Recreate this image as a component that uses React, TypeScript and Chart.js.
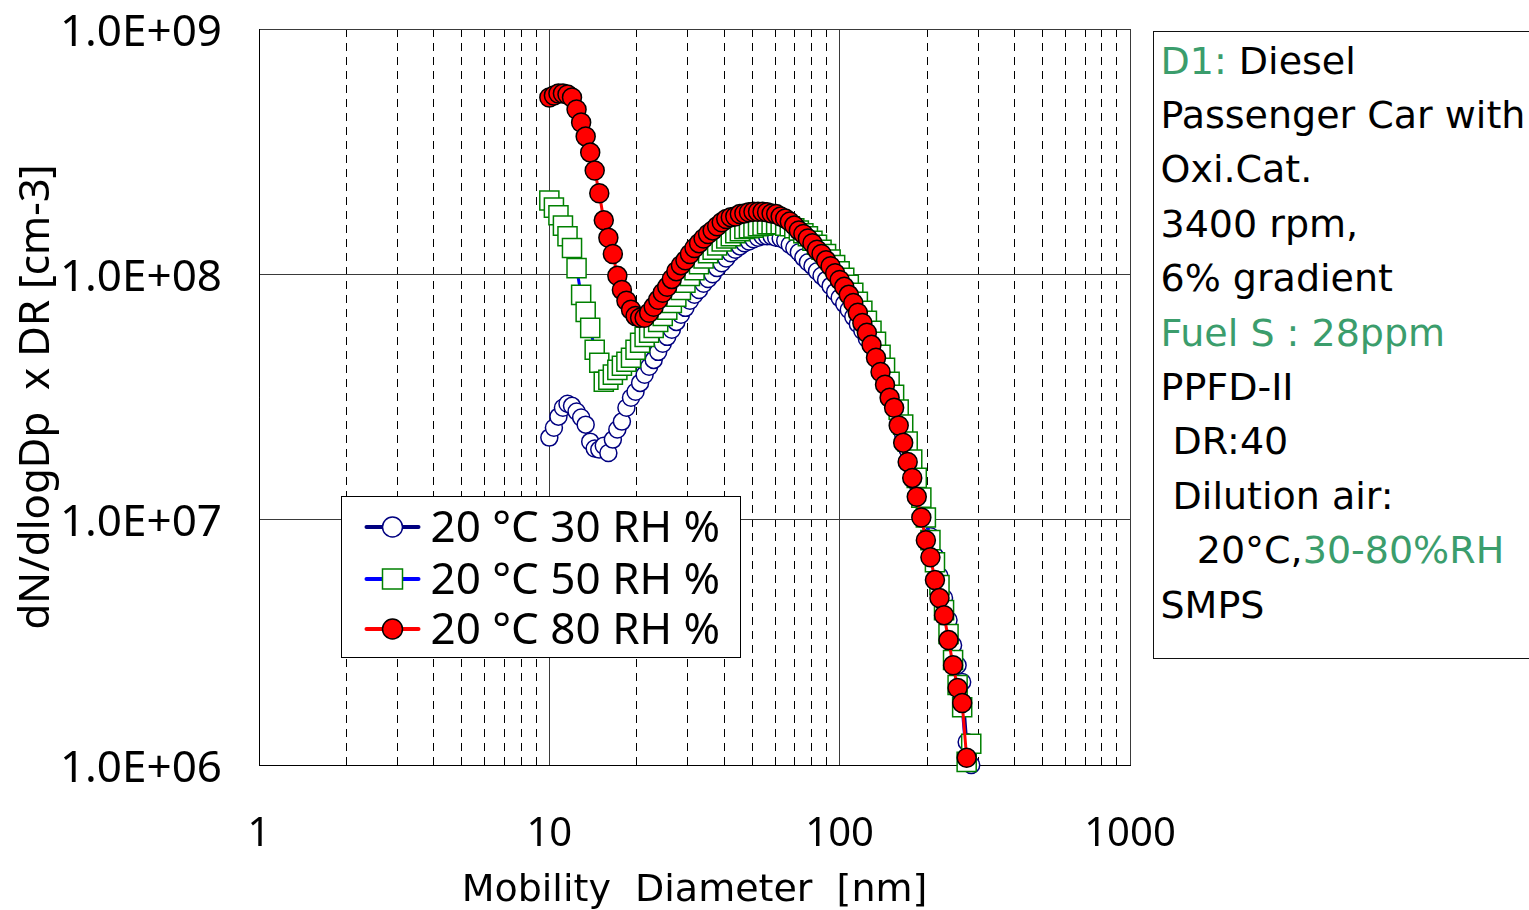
import React, { useEffect, useRef } from 'react';
import { Chart, registerables } from 'chart.js';

Chart.register(...registerables);

// Mobility diameter channels [nm]
const diameters = [
  10.0, 10.37, 10.75, 11.14, 11.55, 11.97, 12.41, 12.87, 13.34, 13.83,
  14.33, 14.86, 15.4, 15.97, 16.55, 17.15, 17.78, 18.43, 19.11, 19.81,
  20.54, 21.29, 22.07, 22.88, 23.71, 24.58, 25.48, 26.42, 27.38, 28.39,
  29.43, 30.5, 31.62, 32.78, 33.98, 35.22, 36.52, 37.85, 39.24, 40.68,
  42.17, 43.71, 45.31, 46.97, 48.7, 50.48, 52.33, 54.25, 56.23, 58.29,
  60.43, 62.64, 64.94, 67.32, 69.78, 72.34, 74.99, 77.74, 80.59, 83.54,
  86.6, 89.77, 93.06, 96.47, 100.0, 103.7, 107.5, 111.4, 115.5, 119.7,
  124.1, 128.7, 133.4, 138.3, 143.3, 148.6, 154.0, 159.7, 165.5, 171.5,
  177.8, 184.3, 191.1, 198.1, 205.4, 212.9, 220.7, 228.8, 237.1, 245.8,
  254.8, 264.2, 273.8, 283.9,
];

// 20 °C 30 RH %
const rh30 = [
  2.16e7, 2.37e7, 2.63e7, 2.86e7, 2.97e7, 2.91e7, 2.76e7, 2.61e7, 2.44e7, 2.08e7,
  1.95e7, 1.93e7, 2.0e7, 1.87e7, 2.12e7, 2.33e7, 2.51e7, 2.86e7, 3.14e7, 3.32e7,
  3.61e7, 3.9e7, 4.2e7, 4.48e7, 4.83e7, 5.21e7, 5.56e7, 5.94e7, 6.4e7, 6.84e7,
  7.3e7, 7.8e7, 8.25e7, 8.64e7, 9.15e7, 9.58e7, 1.0e8, 1.06e8, 1.11e8, 1.16e8,
  1.22e8, 1.26e8, 1.3e8, 1.34e8, 1.36e8, 1.39e8, 1.41e8, 1.43e8, 1.43e8, 1.43e8,
  1.41e8, 1.4e8, 1.37e8, 1.32e8, 1.28e8, 1.23e8, 1.17e8, 1.12e8, 1.08e8, 1.03e8,
  9.86e7, 9.49e7, 8.97e7, 8.48e7, 8.02e7, 7.58e7, 7.17e7, 6.71e7, 6.28e7, 5.89e7,
  5.46e7, 5.11e7, 4.66e7, 4.24e7, 3.79e7, 3.32e7, 2.94e7, 2.55e7, 2.22e7, 1.93e7,
  1.66e7, 1.41e7, 1.21e7, 1.02e7, 8.56e6, 7.1e6, 5.89e6, 4.79e6, 3.9e6, 3.08e6,
  2.55e6, 2.18e6, 1.24e6, 1.0e6,
];

// 20 °C 50 RH %
const rh50 = [
  2.0e8, 1.87e8, 1.74e8, 1.58e8, 1.43e8, 1.28e8, 1.06e8, 8.25e7, 7.03e7, 6.05e7,
  4.93e7, 4.36e7, 3.65e7, 3.72e7, 3.9e7, 4.08e7, 4.24e7, 4.4e7, 4.57e7, 4.93e7,
  5.26e7, 5.56e7, 5.78e7, 6.05e7, 6.4e7, 6.77e7, 7.17e7, 7.65e7, 8.1e7, 8.64e7,
  9.24e7, 9.86e7, 1.04e8, 1.1e8, 1.16e8, 1.22e8, 1.26e8, 1.31e8, 1.36e8, 1.4e8,
  1.43e8, 1.47e8, 1.5e8, 1.53e8, 1.54e8, 1.55e8, 1.57e8, 1.58e8, 1.6e8, 1.6e8,
  1.6e8, 1.6e8, 1.58e8, 1.57e8, 1.54e8, 1.51e8, 1.47e8, 1.43e8, 1.37e8, 1.32e8,
  1.26e8, 1.21e8, 1.15e8, 1.09e8, 1.03e8, 9.67e7, 9.06e7, 8.41e7, 7.72e7, 7.1e7,
  6.46e7, 5.89e7, 5.31e7, 4.7e7, 4.16e7, 3.65e7, 3.23e7, 2.81e7, 2.44e7, 2.08e7,
  1.76e7, 1.48e7, 1.23e7, 1.02e7, 8.25e6, 6.71e6, 5.41e6, 4.28e6, 3.42e6, 2.68e6,
  2.12e6, 1.72e6, 1.03e6, 1.22e6,
];

// 20 °C 80 RH %
const rh80 = [
  5.26e8, 5.36e8, 5.46e8, 5.46e8, 5.41e8, 5.26e8, 4.7e8, 4.16e8, 3.65e8, 3.14e8,
  2.65e8, 2.14e8, 1.66e8, 1.41e8, 1.21e8, 9.86e7, 8.64e7, 7.8e7, 7.17e7, 6.77e7,
  6.65e7, 6.65e7, 6.97e7, 7.37e7, 7.87e7, 8.41e7, 8.89e7, 9.58e7, 1.03e8, 1.09e8,
  1.14e8, 1.21e8, 1.28e8, 1.34e8, 1.4e8, 1.46e8, 1.51e8, 1.57e8, 1.63e8, 1.68e8,
  1.71e8, 1.72e8, 1.76e8, 1.77e8, 1.79e8, 1.8e8, 1.8e8, 1.8e8, 1.79e8, 1.77e8,
  1.76e8, 1.72e8, 1.69e8, 1.64e8, 1.58e8, 1.51e8, 1.46e8, 1.4e8, 1.34e8, 1.26e8,
  1.21e8, 1.14e8, 1.08e8, 1.01e8, 9.49e7, 8.89e7, 8.25e7, 7.65e7, 6.97e7, 6.34e7,
  5.78e7, 5.16e7, 4.57e7, 4.0e7, 3.55e7, 3.14e7, 2.86e7, 2.42e7, 2.06e7, 1.72e7,
  1.48e7, 1.24e7, 1.02e7, 8.25e6, 7.03e6, 5.67e6, 4.79e6, 4.08e6, 3.23e6, 2.55e6,
  2.06e6, 1.79e6, 1.07e6, null,
];

const seriesLabels = ['20 °C 30 RH %', '20 °C 50 RH %', '20 °C 80 RH %'];

const xGridValues = [
  1, 2, 3, 4, 5, 6, 7, 8, 9,
  10, 20, 30, 40, 50, 60, 70, 80, 90,
  100, 200, 300, 400, 500, 600, 700, 800, 900,
  1000,
];
const xTickLabels = [1, 10, 100, 1000];
const yTickValues = [1e6, 1e7, 1e8, 1e9];
const yTickLabels = ['1.0E+06', '1.0E+07', '1.0E+08', '1.0E+09'];

const GREEN_TEXT = '#3b9d6c';

const toPoints = (ys: (number | null)[]) =>
  ys
    .map((y, i) => ({ x: diameters[i], y }))
    .filter((p) => p.y !== null) as { x: number; y: number }[];

const isDecade = (v: number | undefined) =>
  v !== undefined && xTickLabels.some((d) => Math.abs(d - v) < 1e-9);

const zeroPadding = (scale: any) => {
  scale.paddingTop = 0;
  scale.paddingBottom = 0;
  scale.paddingLeft = 0;
  scale.paddingRight = 0;
};

const legendPlugin = {
  id: 'boxLegend',
  afterDraw(chart: any) {
    const { ctx, chartArea } = chart;
    const bx = chartArea.left + 82.5;
    const by = chartArea.top + 467.5;
    const bw = 399;
    const bh = 161;
    ctx.save();
    ctx.fillStyle = '#ffffff';
    ctx.fillRect(bx, by, bw, bh);
    ctx.strokeStyle = '#000000';
    ctx.lineWidth = 1;
    ctx.strokeRect(bx, by, bw, bh);
    const rowYs = [by + 30.5, by + 82.5, by + 132.5];
    chart.data.datasets.forEach((ds: any, i: number) => {
      const cy = rowYs[i];
      const lx1 = bx + 25;
      const lx2 = bx + 77;
      const mx = bx + 51;
      ctx.strokeStyle = ds.borderColor;
      ctx.lineWidth = 4;
      ctx.lineCap = 'round';
      ctx.beginPath();
      ctx.moveTo(lx1, cy);
      ctx.lineTo(lx2, cy);
      ctx.stroke();
      ctx.lineWidth = 1.5;
      ctx.fillStyle = ds.pointBackgroundColor;
      ctx.strokeStyle = ds.pointBorderColor;
      ctx.beginPath();
      if (ds.pointStyle === 'rect') {
        ctx.rect(mx - 10, cy - 10, 20, 20);
      } else {
        ctx.arc(mx, cy, 10, 0, Math.PI * 2);
      }
      ctx.fill();
      ctx.stroke();
      ctx.fillStyle = '#000000';
      ctx.font = '44px "Noto Sans"';
      ctx.textAlign = 'left';
      ctx.textBaseline = 'middle';
      ctx.fillText(ds.label, bx + 89, cy + 2);
    });
    ctx.restore();
  },
};

export default function App() {
  const ref = useRef<HTMLCanvasElement>(null);

  useEffect(() => {
    if (!ref.current) return;
    const chart = new Chart(ref.current, {
      type: 'line',
      data: {
        datasets: [
          {
            label: seriesLabels[0],
            data: toPoints(rh30),
            borderColor: '#000080',
            borderWidth: 3,
            pointStyle: 'circle',
            pointRadius: 8.5,
            pointBorderWidth: 1.5,
            pointBackgroundColor: '#ffffff',
            pointBorderColor: '#000080',
            order: 2,
            clip: false,
          },
          {
            label: seriesLabels[1],
            data: toPoints(rh50),
            borderColor: '#0000ff',
            borderWidth: 3,
            pointStyle: 'rect',
            pointRadius: 13.5,
            pointBorderWidth: 1.5,
            pointBackgroundColor: '#ffffff',
            pointBorderColor: '#008000',
            order: 1,
            clip: false,
          },
          {
            label: seriesLabels[2],
            data: toPoints(rh80),
            borderColor: '#ff0000',
            borderWidth: 3,
            pointStyle: 'circle',
            pointRadius: 9.5,
            pointBorderWidth: 1.5,
            pointBackgroundColor: '#ff0000',
            pointBorderColor: '#000000',
            order: 0,
            clip: false,
          },
        ] as any,
      },
      options: {
        responsive: false,
        animation: false,
        devicePixelRatio: 1,
        layout: { padding: { left: 0, top: 29, right: 399, bottom: 0 } },
        plugins: {
          legend: { display: false },
          tooltip: { enabled: false },
        },
        elements: { line: { tension: 0 } },
        scales: {
          x: {
            type: 'logarithmic',
            min: 1,
            max: 1000,
            afterBuildTicks: (scale: any) => {
              scale.ticks = xGridValues.map((v) => ({ value: v }));
            },
            afterFit: (scale: any) => {
              scale.height = 145;
              zeroPadding(scale);
            },
            ticks: {
              autoSkip: false,
              maxRotation: 0,
              minRotation: 0,
              padding: 46,
              color: '#000000',
              font: { family: 'Noto Sans', size: 40 },
              callback: (v: any) => (isDecade(Number(v)) ? String(v) : ''),
            },
            grid: {
              drawTicks: false,
              lineWidth: 1,
              color: (c: any) => (c.tick && isDecade(c.tick.value) ? '#3a3a3a' : '#000000'),
            },
            border: {
              display: true,
              color: '#000000',
              width: 1,
              dash: (c: any) => (c.tick && !isDecade(c.tick.value) ? [8, 6] : []),
            },
            title: {
              display: true,
              text: 'Mobility  Diameter  [nm]',
              color: '#000000',
              font: { family: 'DejaVu Sans', size: 38, lineHeight: 1 },
              padding: 0,
            },
          },
          y: {
            type: 'logarithmic',
            min: 1e6,
            max: 1e9,
            afterBuildTicks: (scale: any) => {
              scale.ticks = yTickValues.map((v) => ({ value: v }));
            },
            afterFit: (scale: any) => {
              scale.width = 259;
              zeroPadding(scale);
            },
            ticks: {
              autoSkip: false,
              padding: 37,
              labelOffset: 4,
              color: '#000000',
              font: { family: 'Noto Sans', size: 44 },
              callback: (v: any) => {
                const idx = yTickValues.findIndex((t) => Math.abs(t - Number(v)) / t < 1e-6);
                return idx >= 0 ? yTickLabels[idx] : '';
              },
            },
            grid: {
              drawTicks: false,
              lineWidth: 1,
              color: '#3a3a3a',
            },
            border: { display: true, color: '#000000', width: 1 },
            title: {
              display: true,
              text: 'dN/dlogDp  x DR [cm-3]',
              color: '#000000',
              font: { family: 'Noto Sans', size: 42 },
              padding: { top: 12, bottom: 0 },
            },
          },
        },
      } as any,
      plugins: [legendPlugin],
    });
    return () => chart.destroy();
  }, []);

  const g = { color: GREEN_TEXT };
  return (
    <div
      style={{
        position: 'fixed',
        left: 0,
        top: 0,
        width: 1529,
        height: 910,
        overflow: 'hidden',
        background: '#ffffff',
      }}
    >
      <canvas
        ref={ref}
        width={1529}
        height={910}
        style={{ position: 'absolute', left: 0, top: 0, width: 1529, height: 910 }}
      />
      <div
        style={{
          position: 'absolute',
          left: 1153,
          top: 31,
          width: 500,
          height: 628,
          boxSizing: 'border-box',
          border: '1.5px solid #111',
          background: '#ffffff',
          paddingLeft: 6.5,
          paddingTop: 1.5,
          fontFamily: '"DejaVu Sans"',
          fontSize: 38,
          lineHeight: '54.4px',
          color: '#000',
          whiteSpace: 'pre',
        }}
      >
        <div><span style={g}>D1: </span>Diesel</div>
        <div>Passenger Car with</div>
        <div>Oxi.Cat.</div>
        <div>3400 rpm,</div>
        <div>6% gradient</div>
        <div style={g}>Fuel S : 28ppm</div>
        <div>PPFD-II</div>
        <div> DR:40</div>
        <div> Dilution air:</div>
        <div>{'   20°C,'}<span style={g}>30-80%RH</span></div>
        <div>SMPS</div>
      </div>
    </div>
  );
}
